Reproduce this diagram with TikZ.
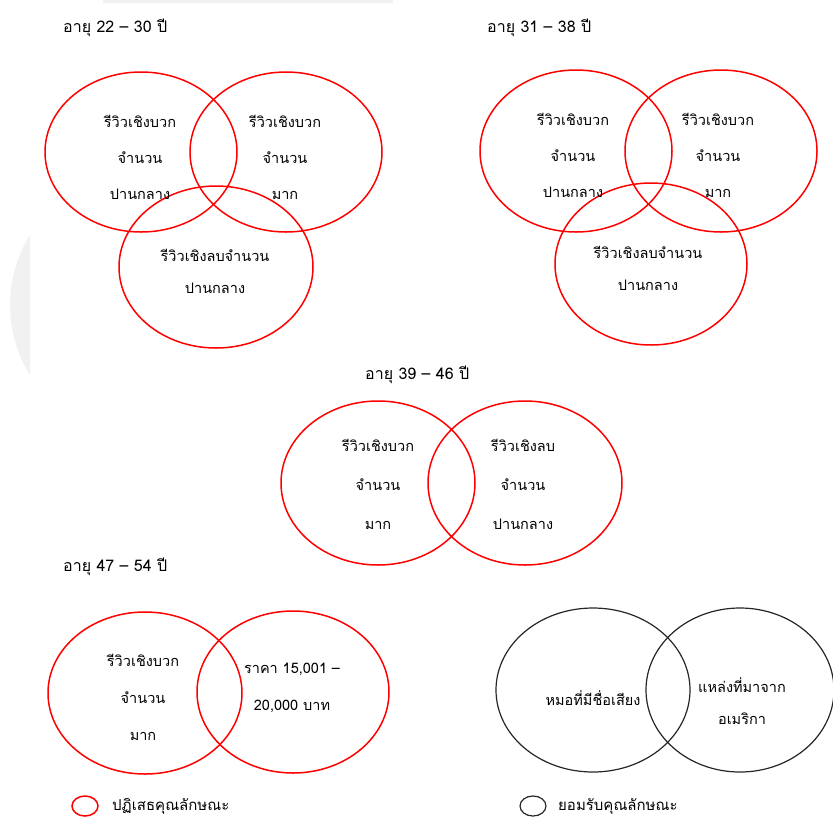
\documentclass[tikz,border=0pt]{standalone}
\usepackage{fontspec}
\usepackage{tikz}
\newfontfamily\thaifont[Script=Thai]{Loma}

\begin{document}
\begin{tikzpicture}[x=1pt,y=-1pt,
  lbl/.style={font=\thaifont\fontsize{14.5}{#1}\selectfont, align=center, inner sep=0pt},
  lbl/.default=36,
  ttl/.style={font=\thaifont\fontsize{16}{18}\selectfont, anchor=west, inner sep=0pt},
  key/.style={font=\thaifont\fontsize{15}{17}\selectfont, anchor=west, inner sep=0pt},
  rejected/.style={draw=red, line width=1.5pt},
  accepted/.style={draw=black!85, line width=1.2pt}]
\useasboundingbox (0,0) rectangle (833,823);

% faint page marks
\begin{scope}
\clip (0,0) rectangle (30,823);
\fill[gray!11] (142.5,305) circle (132.5);
\end{scope}
\fill[gray!11] (103,0) rectangle (393,3);

% age 22-30
\node[ttl] (t1) at (63,28) {อายุ 22 – 30 ปี};
\draw[rejected] (141,152) ellipse [x radius=96, y radius=80];
\draw[rejected] (286,152) ellipse [x radius=96, y radius=80];
\draw[rejected] (216,267) ellipse [x radius=97, y radius=81];
\node[lbl] (a1) at (140,157) {รีวิวเชิงบวก\\จำนวน\\ปานกลาง};
\node[lbl] (a2) at (285,157) {รีวิวเชิงบวก\\จำนวน\\มาก};
\node[lbl=32] (a3) at (215,271) {รีวิวเชิงลบจำนวน\\ปานกลาง};

% age 31-38
\node[ttl] (t2) at (487,28) {อายุ 31 – 38 ปี};
\draw[rejected] (576,151) ellipse [x radius=96, y radius=81];
\draw[rejected] (721,151) ellipse [x radius=96, y radius=81];
\draw[rejected] (651,264) ellipse [x radius=96, y radius=81];
\node[lbl] (b1) at (573,155) {รีวิวเชิงบวก\\จำนวน\\ปานกลาง};
\node[lbl] (b2) at (718,155) {รีวิวเชิงบวก\\จำนวน\\มาก};
\node[lbl=32] (b3) at (648,268) {รีวิวเชิงลบจำนวน\\ปานกลาง};

% age 39-46
\node[ttl] (t3) at (365,375) {อายุ 39 – 46 ปี};
\draw[rejected] (378,483) ellipse [x radius=97, y radius=82];
\draw[rejected] (525,483) ellipse [x radius=97, y radius=82];
\node[lbl=39] (c1) at (378,484) {รีวิวเชิงบวก\\จำนวน\\มาก};
\node[lbl=39] (c2) at (523,484) {รีวิวเชิงลบ\\จำนวน\\ปานกลาง};

% age 47-54
\node[ttl] (t4) at (63,567) {อายุ 47 – 54 ปี};
\draw[rejected] (145,693) ellipse [x radius=97, y radius=81];
\draw[rejected] (293,692) ellipse [x radius=96, y radius=81];
\node[lbl=37] (d1) at (143,697) {รีวิวเชิงบวก\\จำนวน\\มาก};
\node[lbl=37] (d2) at (292,688) {ราคา 15,001 –\\20,000 บาท};

% accepted traits
\draw[accepted] (593,690) ellipse [x radius=97, y radius=82];
\draw[accepted] (740,690) ellipse [x radius=94, y radius=82];
\node[lbl] (e1) at (593,698) {หมอที่มีชื่อเสียง};
\node[lbl=32] (e2) at (742,701) {แหล่งที่มาจาก\\อเมริกา};

% legend
\draw[rejected] (85,806) ellipse [x radius=13, y radius=10];
\node[key] (k1) at (112,806) {ปฏิเสธคุณลักษณะ};
\draw[accepted] (533,806) ellipse [x radius=13, y radius=10];
\node[key] (k2) at (558,806) {ยอมรับคุณลักษณะ};

\end{tikzpicture}
\end{document}
